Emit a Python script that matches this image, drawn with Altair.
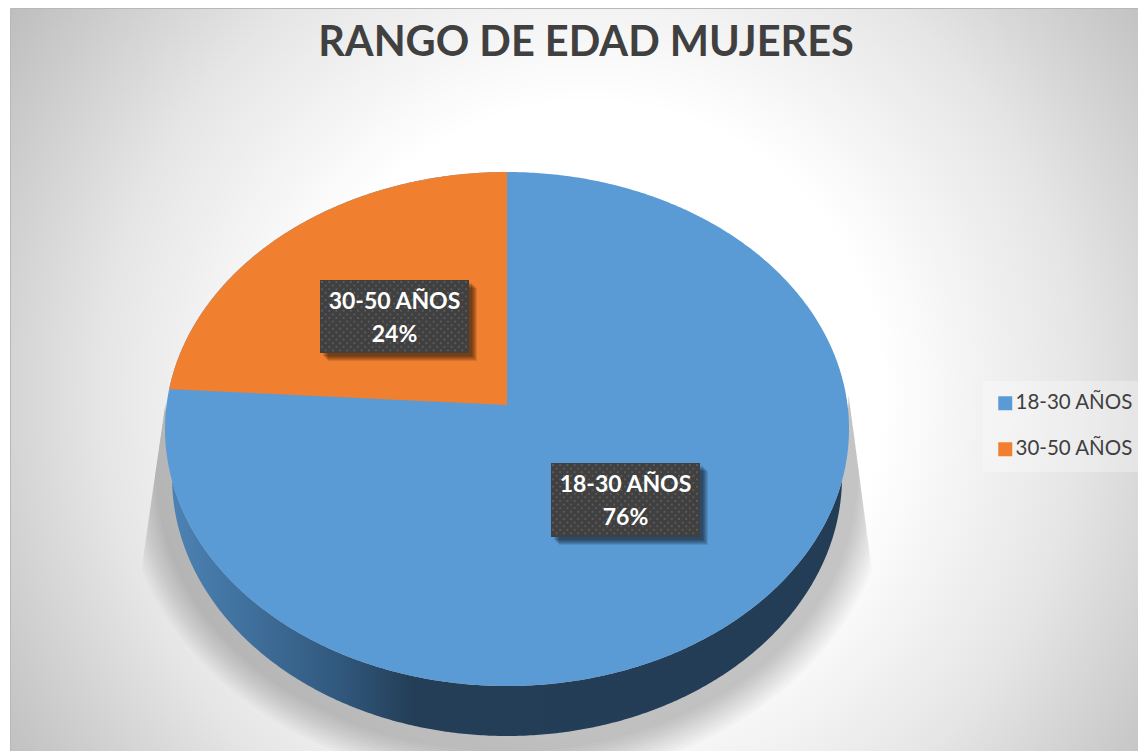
import numpy as np
import pandas as pd
import altair as alt

# ---- values
categories = ["18-30 AÑOS", "30-50 AÑOS"]
percentages = [76, 24]
colors = ["#5B9BD5", "#F07F2F"]
title_text = "RANGO DE EDAD MUJERES"

# ---- layout of the picture (reference pixels)
CX, CY, RX, RY = 507.0, 429.0, 342.0, 257.0      # top face
LOW_CY, LOW_RX, LOW_RY = 477.0, 335.0, 259.0     # bottom rim
K = 24.0 / 257.0                                 # perspective of the disc
label_boxes = [(320, 469, 280, 353), (551, 700, 463, 537)]
FONT = "Lato"

x_scale = alt.Scale(domain=[8, 1138], range=[0, 1130], nice=False, zero=False)
y_scale = alt.Scale(domain=[751, 8], range=[743, 0], nice=False, zero=False)
X = alt.X("x:Q", scale=x_scale, axis=None)
Y = alt.Y("y:Q", scale=y_scale, axis=None, stack=None)
Y2 = alt.Y2("y2:Q")
X2 = alt.X2("x2:Q")

t = np.linspace(0, np.pi, 361)


def disc_point(theta):
    """theta: angle from the top of the disc, going left; perspective-mapped."""
    px, py = -np.sin(theta), np.cos(theta)
    v = (py + K) / (1 + K * py)
    u = px * np.sqrt(1 - K * K) / (1 + K * py)
    return CX + RX * u, CY - RY * v


def top_low(x):
    u = np.clip((x - CX) / RX, -1, 1)
    return CY + RY * np.sqrt(1 - u * u)


# background
bg = alt.Chart(pd.DataFrame({"x": [10.5], "x2": [1170], "y": [8.5], "y2": [780]})).mark_rect(
    fill={"gradient": "radial", "x1": 0.5, "y1": 0.5, "r1": 0, "x2": 0.5, "y2": 0.5, "r2": 0.6,
          "stops": [{"offset": 0, "color": "#ffffff"}, {"offset": 0.42, "color": "#ffffff"},
                    {"offset": 0.7, "color": "#e6e6e6"}, {"offset": 0.82, "color": "#d6d6d6"},
                    {"offset": 1, "color": "#bebebe"}]},
    stroke="#b8b8b8", strokeWidth=1,
).encode(x=X, x2=X2, y=Y, y2=Y2)

# soft shadow below the disc
shadow_rows = []
xs_sh = np.linspace(142, 872, 500)
for i, d in enumerate(np.linspace(16, 48, 12)):
    u = np.clip((xs_sh - CX) / (LOW_RX + d), -1, 1)
    low = LOW_CY + (LOW_RY + d) * np.sqrt(1 - u * u)
    up = np.full_like(xs_sh, CY)
    up = np.where(xs_sh < 165.5, 420 + (163 - xs_sh) * (145 / 21), up)
    up = np.where(xs_sh > 848.5, 420 + (xs_sh - 852) * (150 / 20), up)
    keep = low > up
    shadow_rows.append(pd.DataFrame({"x": xs_sh[keep], "y": up[keep], "y2": low[keep], "k": i}))
shadow = alt.Chart(pd.concat(shadow_rows)).mark_area(color="#000000", opacity=0.019).encode(
    x=X, y=Y, y2=Y2, detail="k:N")

# side of the disc
xs_side = CX + LOW_RX * np.cos(t)
side_df = pd.DataFrame({
    "x": xs_side,
    "y": top_low(xs_side),
    "y2": LOW_CY + LOW_RY * np.sin(t),
}).sort_values("x")
side = alt.Chart(side_df).mark_area(
    fill={"gradient": "linear", "x1": 0, "x2": 1, "y1": 0, "y2": 0,
          "stops": [{"offset": 0, "color": "#4C82B4"}, {"offset": 0.12, "color": "#3F6F9B"},
                    {"offset": 0.25, "color": "#31587D"}, {"offset": 0.36, "color": "#233E56"},
                    {"offset": 1, "color": "#223D55"}]},
).encode(x=X, y=Y, y2=Y2)

color = alt.Color("category:N", scale=alt.Scale(domain=categories, range=colors),
                  legend=alt.Legend(orient="none", legendX=975, legendY=373, title=None,
                                    symbolType="square", symbolSize=196, symbolStrokeWidth=0,
                                    labelFont=FONT, labelFontSize=20.5, labelColor="#404040",
                                    labelOffset=0, padding=12, rowPadding=25, offset=0,
                                    fillColor="rgba(255,255,255,0.3)"))

# faces: whole disc in the first colour, second share laid on it
blue_x = CX + RX * np.cos(t)
blue_df = pd.DataFrame({"x": blue_x, "y": CY - RY * np.sin(t), "y2": CY + RY * np.sin(t),
                        "category": categories[0]}).sort_values("x")
face_main = alt.Chart(blue_df).mark_area().encode(x=X, y=Y, y2=Y2, color=color)

share = percentages[1] / sum(percentages)
theta = np.linspace(0, 2 * np.pi * share, 240)
wx, wy = disc_point(theta)
apex_x, apex_y = CX, CY - RY * K
line_y = apex_y + (wy[-1] - apex_y) * (wx - apex_x) / (wx[-1] - apex_x)
wedge_df = pd.DataFrame({"x": wx, "y": wy, "y2": line_y, "category": categories[1]}).sort_values("x")
face_wedge = alt.Chart(wedge_df).mark_area().encode(x=X, y=Y, y2=Y2, color=color)

# data labels: box shadow, box, dot texture, text
label_layers = []
for box, cat, pct in zip(label_boxes, categories[::-1], percentages[::-1]):
    x0, x1, y0, y1 = box
    rows = [{"x": x0 + d, "x2": x1 + d, "y": y0 + d, "y2": y1 + d} for d in (8, 7, 6, 5, 4, 3)]
    label_layers.append(alt.Chart(pd.DataFrame(rows)).mark_rect(color="#000000", opacity=0.11).encode(
        x=X, x2=X2, y=Y, y2=Y2))
    label_layers.append(alt.Chart(pd.DataFrame([{"x": x0, "x2": x1, "y": y0, "y2": y1}])).mark_rect(
        color="#404040").encode(x=X, x2=X2, y=Y, y2=Y2))
    dots = []
    for r, yy in enumerate(np.arange(y0 + 2, y1, 3.6)):
        for xx in np.arange(x0 + 2 + (r % 2) * 3.6, x1 - 1, 7.2):
            dots.append({"x": xx, "y": yy})
    label_layers.append(alt.Chart(pd.DataFrame(dots)).mark_square(
        size=3.5, color="#5C5C5C", opacity=1).encode(x=X, y=Y))
    mid = (x0 + x1) / 2
    txt = pd.DataFrame([{"x": mid, "y": y0 + 22, "t": cat}, {"x": mid, "y": y0 + 55, "t": f"{pct}%"}])
    label_layers.append(alt.Chart(txt).mark_text(
        font=FONT, fontWeight="bold", fontSize=23, color="#ffffff", baseline="middle", align="center"
    ).encode(x=X, y=Y, text="t:N"))

chart = alt.layer(bg, shadow, side, face_main, face_wedge, *label_layers).properties(
    width=1130, height=743, padding=0,
    autosize=alt.AutoSizeParams(type="none"),
    title=alt.TitleParams(title_text, font=FONT, fontSize=41.5, fontWeight="bold", color="#404040",
                          anchor="middle", frame="group", offset=-56, dx=13),
).configure_view(stroke=None)

chart.save("out.html", embed_options={"renderer": "svg", "actions": False})
